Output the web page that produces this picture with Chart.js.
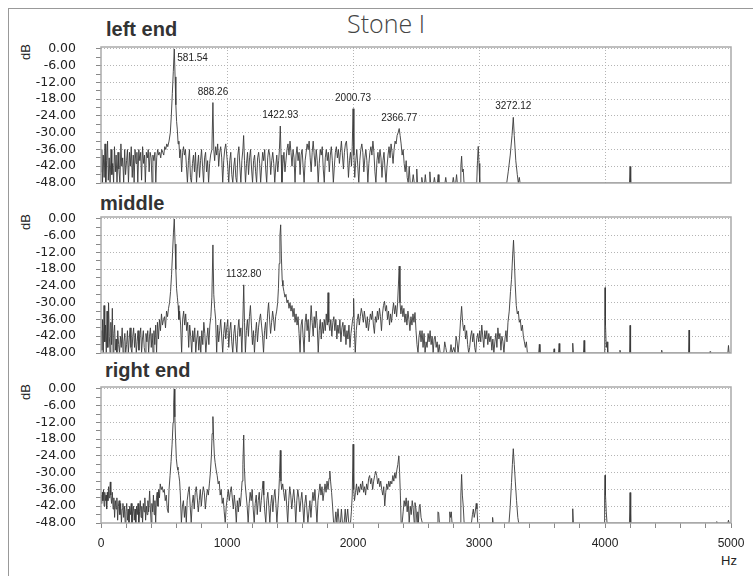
<!DOCTYPE html>
<html>
<head>
<meta charset="utf-8">
<script src="https://cdn.jsdelivr.net/npm/chart.js@4.4.1/dist/chart.umd.min.js"></script>
<style>
  html, body { margin: 0; padding: 0; background: #fff; }
  #page { position: relative; width: 753px; height: 576px; overflow: hidden; }
  canvas { position: absolute; left: 0; top: 0; }
  .frame { position: absolute; left: 8px; top: 8px; right: 0; bottom: 0; border-left: 1px solid #999; border-top: 1px solid #999; }
  .ttl { position: absolute; font: bold 20px/20px "Liberation Sans", Arial, sans-serif; color: #333; white-space: nowrap; }
  .db { position: absolute; left: 11px; width: 30px; height: 16px; font: 13px/16px "Liberation Sans", Arial, sans-serif; color: #222; text-align: center; transform: rotate(-90deg); }
  .main { position: absolute; left: 286px; top: 11px; width: 200px; text-align: center; font: 300 25px/25px "Open Sans", "Liberation Sans", sans-serif; color: #444; }
  .hz { position: absolute; left: 721px; top: 554px; font: 13px/13px "Liberation Sans", Arial, sans-serif; color: #222; }
</style>
</head>
<body>
<div id="page">
  <div class="frame"></div>
  <div class="main">Stone I</div>
  <div class="ttl" style="left:106px;top:19px">left end</div>
  <div class="ttl" style="left:100px;top:193px">middle</div>
  <div class="ttl" style="left:105px;top:360px">right end</div>
  <div class="db" style="top:44px">dB</div>
  <div class="db" style="top:214px">dB</div>
  <div class="db" style="top:384px">dB</div>
  <div class="hz">Hz</div>
  <canvas id="leftChart" width="753" height="576"></canvas>
  <canvas id="middleChart" width="753" height="576"></canvas>
  <canvas id="rightChart" width="753" height="576"></canvas>
</div>
<script>
// spectra: [frequency Hz, level dB]
const leftEnd = [
  [0,-44],[6,-36],[12,-48],[18,-38],[25,-46],[32,-34],[38,-48],[45,-40],[52,-33],[58,-47],[65,-39],[72,-48],[80,-36],[86,-45],[93,-41],[100,-48],
  [107,-35],[114,-44],[120,-38],[127,-48],[135,-37],[142,-43],[150,-48],[158,-34],[165,-42],[172,-39],[180,-48],[188,-36],[195,-45],[203,-40],
  [210,-36],[218,-48],[226,-37],[233,-42],[240,-35],[248,-46],[256,-38],[263,-48],[270,-36],[278,-41],[285,-37],[292,-48],[300,-36],[308,-40],
  [315,-37],[322,-47],[330,-35],[338,-41],[345,-38],[352,-48],[360,-37],[368,-39],[375,-36],[382,-44],[390,-37],[398,-39],[405,-48],[412,-38],
  [420,-40],[428,-37],[435,-48],[442,-39],[450,-36],[458,-38],[466,-37],[474,-39],[482,-36],[490,-37],[498,-38],[506,-35],[514,-36],[522,-34],
  [530,-35],[540,-33],[550,-30],[558,-24],[566,-16],[574,-8],[581.54,0],[588,-10],[594,-20],[600,-26],[606,-29],[612,-34],[618,-33],[625,-39],
  [632,-36],[640,-44],[648,-37],[655,-35],[662,-38],[670,-36],[678,-42],[686,-48],[694,-40],[702,-36],[710,-46],[718,-48],[726,-41],[734,-38],
  [742,-44],[750,-37],[758,-48],[766,-42],[774,-38],[782,-46],[790,-40],[798,-36],[806,-42],[814,-48],[822,-39],[830,-37],[838,-44],[846,-40],
  [854,-48],[862,-41],[870,-38],[880,-36],[888.26,-19.2],[895,-36],[902,-40],[910,-35],[918,-38],[926,-34],[934,-42],[942,-37],[950,-35],
  [958,-39],[966,-48],[974,-40],[982,-36],[990,-34],[998,-38],[1006,-42],[1014,-48],[1022,-40],[1030,-37],[1038,-45],[1046,-48],[1054,-42],
  [1062,-39],[1070,-46],[1078,-48],[1086,-38],[1094,-35],[1102,-42],[1110,-48],[1118,-40],[1126,-36],[1132,-31],[1139,-40],[1147,-48],[1155,-41],
  [1163,-37],[1171,-45],[1179,-39],[1187,-36],[1195,-43],[1203,-48],[1211,-40],[1219,-38],[1227,-44],[1235,-48],[1243,-39],[1251,-37],[1259,-41],
  [1267,-48],[1275,-42],[1283,-37],[1291,-40],[1299,-36],[1307,-43],[1315,-48],[1323,-39],[1331,-36],[1339,-38],[1347,-45],[1355,-40],[1363,-37],
  [1371,-41],[1379,-48],[1387,-42],[1395,-38],[1403,-44],[1410,-40],[1416,-36],[1422.93,-27.6],[1429,-38],[1436,-48],[1444,-41],[1452,-37],
  [1460,-44],[1468,-40],[1476,-36],[1484,-34],[1492,-38],[1500,-33],[1508,-37],[1516,-42],[1524,-36],[1532,-39],[1540,-48],[1548,-38],[1556,-35],
  [1564,-40],[1572,-37],[1580,-45],[1588,-38],[1596,-36],[1604,-42],[1612,-48],[1620,-40],[1628,-37],[1636,-34],[1644,-36],[1652,-33],[1660,-39],
  [1668,-44],[1676,-37],[1684,-33],[1692,-38],[1700,-42],[1708,-36],[1716,-40],[1724,-48],[1732,-41],[1740,-36],[1748,-38],[1756,-35],[1764,-43],
  [1772,-48],[1780,-39],[1788,-36],[1796,-40],[1804,-37],[1812,-44],[1820,-38],[1828,-35],[1836,-40],[1844,-48],[1852,-42],[1860,-37],[1868,-35],
  [1876,-39],[1884,-36],[1892,-41],[1900,-37],[1908,-33],[1916,-38],[1924,-43],[1932,-37],[1940,-34],[1948,-33],[1956,-38],[1964,-46],[1972,-40],
  [1980,-37],[1988,-42],[1994,-35],[2000.73,-21.4],[2007,-38],[2014,-46],[2022,-40],[2030,-36],[2038,-42],[2046,-48],[2054,-40],[2062,-36],
  [2070,-34],[2078,-37],[2086,-44],[2094,-39],[2102,-36],[2110,-40],[2118,-48],[2126,-41],[2134,-37],[2142,-35],[2150,-38],[2158,-33],[2166,-37],
  [2174,-44],[2182,-48],[2190,-40],[2198,-37],[2206,-41],[2214,-36],[2222,-39],[2230,-46],[2238,-40],[2246,-37],[2254,-43],[2262,-48],[2270,-42],
  [2278,-38],[2286,-35],[2294,-39],[2302,-34],[2310,-37],[2318,-41],[2326,-36],[2334,-33],[2342,-34],[2350,-31],[2358,-30],[2366.77,-28.5],
  [2374,-31],[2382,-34],[2390,-38],[2398,-36],[2406,-41],[2414,-44],[2422,-40],[2430,-46],[2438,-48],[2446,-42],[2454,-48],[2470,-48],[2478,-45],
  [2486,-48],[2500,-48],[2506,-43],[2512,-48],[2540,-48],[2546,-46],[2552,-48],[2568,-48],[2574,-45],[2580,-48],[2604,-48],[2610,-44],[2616,-48],
  [2640,-48],[2646,-46],[2652,-48],[2670,-48],[2676,-45],[2682,-48],[2730,-48],[2736,-46],[2742,-48],[2790,-48],[2796,-46],[2802,-48],[2815,-48],
  [2822,-45],[2828,-48],[2850,-48],[2856,-42],[2862,-38.4],[2868,-44],[2875,-43],[2881,-48],[2982,-48],[2988,-40],[2994,-34.9],[3000,-41],
  [3006,-48],[3220,-48],[3232,-44],[3248,-38],[3262,-31],[3272.12,-24.5],[3280,-31],[3292,-40],[3304,-45],[3312,-48],[3320,-46],[3326,-48],
  [4194,-48],[4199,-42.1],[4204,-48],[5000,-48]
];

const middle = [
  [0,-40],[6,-47],[12,-36],[18,-48],[24,-31],[30,-44],[36,-38],[42,-48],[48,-33],[54,-46],[60,-30],[66,-42],[72,-48],[78,-37],[84,-45],[90,-32],
  [96,-48],[102,-41],[108,-38],[114,-47],[120,-43],[126,-48],[133,-40],[140,-45],[147,-48],[154,-42],[161,-46],[168,-39],[175,-48],[182,-44],
  [189,-41],[196,-48],[203,-45],[210,-40],[217,-48],[224,-43],[231,-39],[238,-46],[245,-48],[252,-42],[259,-39],[266,-46],[273,-41],[280,-48],
  [287,-44],[294,-40],[301,-47],[308,-42],[315,-39],[322,-48],[329,-43],[336,-40],[343,-46],[350,-48],[357,-41],[364,-44],[371,-40],[378,-48],
  [385,-42],[392,-39],[399,-46],[406,-41],[413,-48],[420,-40],[427,-45],[434,-38],[441,-48],[448,-37],[456,-43],[464,-36],[472,-40],[480,-34],
  [488,-38],[496,-36],[504,-35],[512,-39],[520,-33],[528,-35],[536,-32],[544,-30],[552,-26],[560,-20],[568,-12],[575,-5],[581.54,0],[588,-9],
  [594,-18],[600,-25],[606,-28],[612,-31],[618,-36],[624,-33],[632,-38],[640,-48],[648,-36],[656,-33],[664,-38],[672,-34],[680,-40],[688,-37],
  [696,-46],[704,-38],[712,-42],[720,-48],[728,-40],[736,-44],[744,-39],[752,-48],[760,-43],[768,-40],[776,-47],[784,-42],[792,-48],[800,-40],
  [808,-45],[816,-37],[824,-41],[832,-48],[840,-43],[848,-39],[856,-45],[864,-38],[872,-35],[880,-28],[888.26,-9.3],[895,-27],[902,-32],[910,-36],
  [918,-48],[926,-38],[934,-44],[942,-40],[950,-36],[958,-42],[966,-48],[974,-41],[982,-37],[990,-43],[998,-39],[1006,-36],[1014,-46],[1022,-40],
  [1030,-37],[1038,-44],[1046,-48],[1054,-41],[1062,-38],[1070,-44],[1078,-48],[1086,-40],[1094,-36],[1102,-42],[1110,-39],[1118,-48],[1126,-36],
  [1132.8,-23.6],[1139,-37],[1146,-48],[1154,-40],[1162,-36],[1170,-42],[1178,-35],[1186,-31],[1194,-38],[1202,-45],[1210,-40],[1218,-48],
  [1226,-41],[1234,-37],[1242,-44],[1250,-39],[1258,-36],[1266,-34],[1274,-38],[1282,-42],[1290,-48],[1298,-40],[1306,-37],[1314,-43],[1322,-34],
  [1330,-30],[1338,-36],[1346,-41],[1354,-37],[1362,-33],[1370,-36],[1378,-40],[1386,-35],[1394,-33],[1402,-30],[1408,-25],[1414,-16],[1420,-6],
  [1426,-2.1],[1432,-14],[1438,-22],[1444,-24],[1452,-26],[1460,-28],[1468,-27],[1476,-30],[1484,-29],[1492,-32],[1500,-30],[1508,-33],[1516,-31],
  [1524,-35],[1532,-32],[1540,-37],[1548,-34],[1556,-38],[1564,-35],[1572,-41],[1580,-48],[1588,-38],[1596,-36],[1604,-42],[1612,-48],[1620,-37],
  [1628,-34],[1636,-40],[1644,-36],[1652,-44],[1660,-38],[1668,-31],[1676,-37],[1684,-42],[1692,-35],[1700,-39],[1708,-33],[1716,-38],[1724,-48],
  [1732,-40],[1740,-36],[1748,-43],[1756,-37],[1764,-41],[1772,-36],[1780,-40],[1788,-34],[1796,-38],[1802,-26.4],[1808,-37],[1816,-40],
  [1824,-36],[1832,-42],[1840,-37],[1848,-35],[1856,-40],[1864,-36],[1872,-43],[1880,-38],[1888,-41],[1896,-36],[1904,-44],[1912,-39],[1920,-37],
  [1928,-42],[1936,-38],[1944,-45],[1952,-40],[1960,-43],[1968,-38],[1976,-46],[1984,-41],[1992,-38],[2000,-35],[2005,-28.5],[2011,-40],[2018,-48],
  [2026,-40],[2034,-36],[2042,-34],[2050,-38],[2058,-35],[2066,-32],[2074,-34],[2082,-37],[2090,-33],[2098,-36],[2106,-39],[2114,-35],[2122,-40],
  [2130,-37],[2138,-34],[2146,-36],[2154,-33],[2162,-38],[2170,-41],[2178,-35],[2186,-37],[2194,-33],[2202,-36],[2210,-32],[2218,-35],[2226,-40],
  [2234,-34],[2242,-31],[2250,-29.5],[2258,-33],[2266,-31],[2274,-36],[2282,-33],[2290,-38],[2298,-34],[2306,-37],[2314,-33],[2322,-30],[2330,-34],
  [2338,-31],[2346,-35],[2354,-30],[2360,-24],[2366.77,-16.9],[2373,-30],[2380,-34],[2388,-31],[2396,-35],[2404,-32],[2412,-37],[2420,-34],
  [2428,-38],[2436,-33],[2444,-36],[2452,-40],[2460,-35],[2468,-38],[2476,-34],[2484,-37],[2492,-33.5],[2500,-40],[2508,-45],[2516,-48],[2524,-42],
  [2532,-40],[2540,-44],[2548,-40],[2556,-46],[2564,-41],[2572,-48],[2580,-44],[2588,-46],[2596,-41],[2604,-44],[2612,-40],[2620,-45],[2628,-42],
  [2636,-48],[2644,-43],[2652,-42],[2660,-46],[2668,-44],[2676,-48],[2684,-45],[2692,-48],[2720,-48],[2728,-44],[2736,-46],[2744,-48],[2770,-48],
  [2778,-45],[2786,-48],[2800,-46],[2810,-48],[2818,-42],[2826,-44],[2834,-48],[2846,-42],[2854,-36],[2862,-31.3],[2870,-37],[2878,-40],[2886,-38],
  [2894,-43],[2902,-40],[2910,-45],[2918,-48],[2926,-46],[2934,-42],[2942,-40],[2950,-44],[2958,-41],[2966,-46],[2974,-48],[2982,-43],[2990,-41],
  [2998,-44],[3006,-40],[3014,-44],[3022,-38],[3030,-42],[3038,-46],[3046,-40],[3054,-43],[3062,-40],[3070,-45],[3078,-41],[3086,-44],[3094,-42],
  [3102,-47],[3110,-43],[3118,-48],[3126,-44],[3134,-41],[3142,-46],[3150,-39],[3158,-43],[3166,-41],[3174,-47],[3182,-42],[3190,-44],[3198,-48],
  [3206,-43],[3214,-40],[3222,-44],[3230,-37],[3240,-33],[3250,-26],[3258,-21.6],[3266,-14],[3274,-7.6],[3280,-14],[3288,-24],[3296,-31],
  [3304,-34],[3312,-33],[3320,-37],[3328,-36],[3336,-40],[3344,-38],[3352,-42],[3360,-44],[3368,-46],[3376,-44],[3384,-48],[3474,-48],[3479,-44.9],
  [3484,-48],[3592,-48],[3596,-46.5],[3600,-48],[3631,-48],[3636,-44.6],[3641,-48],[3739,-48],[3744,-44.5],[3749,-48],[3829,-48],[3834,-43.5],
  [3839,-48],[3994,-48],[3998,-35],[4000,-24.6],[4004,-38],[4010,-46],[4016,-44],[4022,-48],[4115,-48],[4119,-47],[4123,-48],[4195,-48],
  [4199,-38.1],[4203,-48],[4446,-48],[4450,-47],[4454,-48],[4663,-48],[4667,-39.8],[4671,-48],[4830,-48],[4834,-47.5],[4838,-48],[4975,-48],
  [4980,-45.3],[4985,-48],[5000,-48]
];

const rightEnd = [
  [0,-38],[5,-41],[10,-37],[15,-40],[20,-36],[25,-42],[30,-37],[35,-40],[40,-38],[45,-43],[50,-37],[55,-40],[60,-35],[65,-39],[70,-36],
  [74,-33.3],[78,-38],[84,-41],[90,-37],[96,-43],[102,-39],[108,-46],[114,-40],[120,-43],[126,-39],[132,-47],[138,-42],[144,-40],[150,-45],
  [156,-41],[162,-48],[168,-43],[174,-41],[180,-46],[186,-42],[192,-48],[198,-44],[204,-41],[210,-47],[216,-43],[222,-48],[228,-42],[234,-45],
  [240,-41],[246,-48],[252,-44],[258,-42],[264,-47],[270,-43],[276,-48],[282,-42],[288,-45],[294,-41],[300,-48],[306,-44],[312,-40],[318,-46],
  [324,-42],[330,-48],[336,-41],[342,-44],[348,-39],[354,-47],[360,-42],[366,-45],[372,-40],[378,-44],[386,-36.5],[392,-43],[398,-48],[404,-41],
  [410,-44],[416,-38],[422,-45],[428,-40],[434,-48],[440,-39],[446,-37],[452,-42],[458,-36],[464,-39],[470,-34],[478,-36],[486,-35],[494,-37],
  [502,-36],[510,-40],[518,-38],[526,-43],[534,-44.3],[540,-36],[548,-31],[556,-26],[564,-20],[572,-12],[577,-5],[581.54,0],[586,-10],[592,-18],
  [598,-25],[605,-28],[611,-29],[618,-31],[624,-33],[630,-38],[638,-48],[646,-42],[654,-40],[662,-46],[670,-42],[677,-48],[684,-40],[692,-37],
  [700,-35],[708,-42],[716,-48],[724,-41],[732,-38],[740,-43],[748,-37],[756,-35],[764,-39],[772,-44],[780,-40],[788,-36],[796,-42],[804,-38],
  [812,-35],[820,-37],[828,-43],[836,-39],[844,-36],[852,-38],[860,-34],[868,-30],[876,-24],[882,-16],[888.26,-9.9],[894,-18],[900,-24],
  [906,-26.4],[914,-29],[922,-31],[930,-34],[938,-33],[946,-38],[954,-36],[962,-41],[970,-39],[978,-44],[986,-48],[994,-42],[1002,-39],[1010,-36],
  [1018,-40],[1026,-37],[1034,-35],[1042,-39],[1050,-43],[1058,-38],[1066,-42],[1074,-48],[1082,-40],[1090,-44],[1098,-39],[1106,-42],[1114,-37],
  [1120,-33],[1126,-27],[1132.8,-16.5],[1138,-28],[1144,-34],[1152,-38],[1160,-42],[1168,-48],[1176,-41],[1184,-37],[1192,-40],[1200,-36],
  [1208,-43],[1216,-48],[1224,-41],[1232,-38],[1240,-45],[1248,-40],[1256,-37],[1264,-44],[1272,-40],[1280,-36],[1286,-33],[1292,-38],[1300,-44],
  [1308,-48],[1316,-40],[1324,-37],[1332,-42],[1340,-48],[1348,-41],[1356,-38],[1364,-44],[1372,-39],[1380,-36],[1388,-41],[1396,-48],[1404,-42],
  [1410,-38],[1416,-32],[1422.93,-22],[1428,-33],[1434,-36],[1442,-34],[1450,-37],[1458,-40],[1466,-36],[1474,-42],[1482,-48],[1490,-40],
  [1498,-35],[1506,-38],[1514,-43],[1522,-39],[1530,-36],[1538,-41],[1546,-48],[1554,-40],[1562,-36],[1570,-39],[1578,-44],[1586,-40],[1594,-37],
  [1602,-42],[1610,-48],[1618,-41],[1626,-38],[1634,-43],[1642,-48],[1650,-44],[1658,-40],[1666,-46],[1674,-41],[1682,-37],[1690,-40],[1698,-36],
  [1706,-42],[1714,-48],[1722,-40],[1730,-37],[1738,-34],[1746,-38],[1754,-35],[1762,-40],[1770,-37],[1778,-34],[1786,-37],[1794,-33],[1802,-36],
  [1810,-32],[1816,-29.4],[1822,-33],[1830,-37],[1838,-42],[1846,-48],[1856,-48],[1864,-44],[1872,-48],[1881,-42.9],[1890,-48],[1900,-48],
  [1908,-43],[1916,-48],[1930,-48],[1938,-43],[1946,-48],[1958,-43],[1966,-48],[1980,-48],[1987,-44],[1994,-38],[2000.73,-19.8],[2006,-36],
  [2012,-40],[2020,-37],[2028,-34],[2036,-38],[2044,-35],[2052,-37],[2060,-34],[2068,-36],[2076,-33],[2084,-37],[2092,-35],[2100,-38],[2108,-34],
  [2116,-36],[2124,-32],[2132,-31],[2140,-34],[2148,-32],[2156,-36],[2164,-33],[2172,-31],[2180,-29.5],[2188,-31],[2196,-34],[2204,-32],[2212,-35],
  [2220,-33],[2228,-36],[2236,-38],[2244,-35],[2252,-41.9],[2260,-37],[2268,-34],[2276,-36],[2284,-33],[2292,-35],[2300,-33],[2308,-34],[2316,-31],
  [2324,-33],[2332,-30],[2340,-32],[2348,-29],[2356,-27],[2364,-24],[2370,-30],[2376,-38],[2382,-48],[2390,-48],[2398,-44],[2406,-40],[2414,-42],
  [2422,-39],[2430,-44],[2438,-40],[2446,-48],[2454,-42],[2462,-45],[2470,-40],[2478,-43],[2486,-48],[2492,-40.7],[2500,-43],[2508,-48],[2514,-44],
  [2519,-48],[2526,-42],[2532,-41.3],[2540,-46],[2550,-48],[2668,-48],[2674,-44],[2680,-44.3],[2686,-48],[2762,-48],[2768,-44],[2774,-46],
  [2780,-44],[2786,-48],[2850,-48],[2856,-38],[2862,-30.6],[2868,-38],[2875,-42],[2882,-48],[2940,-48],[2948,-45],[2955,-43],[2962,-46],[2970,-44],
  [2978,-41],[2984,-43],[2990,-48],[3104,-48],[3108,-46],[3112,-48],[3238,-48],[3248,-42],[3258,-33.5],[3265,-27],[3272.12,-21.4],[3280,-27],
  [3288,-33],[3298,-40],[3308,-46],[3315,-48],[3739,-48],[3744,-42.9],[3749,-48],[3994,-48],[3997,-38],[4000,-30.9],[4004,-38],[4010,-44],
  [4016,-48],[4194,-48],[4199,-37.1],[4204,-48],[4883,-48],[4887,-47.5],[4891,-48],[4975,-48],[4980,-47],[4985,-48],[5000,-48]
];

// annotated peaks
const leftPeakHz = [581.54, 888.26, 1422.93, 2000.73, 2366.77, 3272.12];
const leftPeakDb = [0, -19.2, -27.6, -21.4, -28.5, -24.5];
const middlePeakHz = [1132.80];
const middlePeakDb = [-23.6];

// axis ranges and ticks
const hzMin = 0, hzMax = 5000;
const dbMin = -48, dbMax = 0.7;
const dbTicks = [-48, -45, -42, -39, -36, -33, -30, -27, -24, -21, -18, -15, -12, -9, -6, -3, 0];

Chart.defaults.font.family = '"Liberation Sans", Arial, sans-serif';
Chart.defaults.color = '#222';

const isStep = (v, s) => Math.abs(v / s - Math.round(v / s)) < 1e-6;

const panelDecor = {
    id: 'panelDecor',
    afterDatasetsDraw(chart, args, opts) {
        const { ctx, chartArea: a, scales: { x, y } } = chart;
        ctx.save();

        // peak frequency labels
        ctx.font = '10px "Liberation Sans", Arial, sans-serif';
        (opts.peakHz || []).forEach((hz, i) => {
            const text = hz.toFixed(2);
            const px = x.getPixelForValue(hz);
            const py = y.getPixelForValue(opts.peakDb[i]);
            const w = ctx.measureText(text).width;
            let tx, ty;
            if (opts.peakDb[i] > -3) {
                tx = px + 3; ty = py + 12;
            } else {
                tx = px - w / 2; ty = py - 8;
            }
            ctx.fillStyle = '#fff';
            ctx.fillRect(tx - 1, ty - 9, w + 2, 11);
            ctx.fillStyle = '#222';
            ctx.fillText(text, tx, ty);
        });

        // plot frame
        ctx.strokeStyle = '#aaa';
        ctx.lineWidth = 1.5;
        ctx.strokeRect(a.left, a.top, a.right - a.left, a.bottom - a.top);
        ctx.restore();
    }
};

function makePanel(id, points, peakHz, peakDb, areaTop, areaBottom, showX) {
    const xAxisHeight = showX ? 30 : 0;
    return new Chart(document.getElementById(id), {
        type: 'scatter',
        data: {
            datasets: [{
                data: points.map(([f, d]) => ({ x: f, y: d })),
                showLine: true,
                borderColor: '#3a3a3a',
                borderWidth: 0.9,
                pointRadius: 0,
                tension: 0
            }]
        },
        options: {
            responsive: false,
            animation: false,
            events: [],
            layout: { padding: { top: areaTop, bottom: 576 - areaBottom - xAxisHeight, left: 0, right: 22 } },
            plugins: {
                legend: { display: false },
                tooltip: { enabled: false },
                panelDecor: { peakHz, peakDb }
            },
            scales: {
                x: {
                    type: 'linear',
                    min: hzMin,
                    max: hzMax,
                    afterFit: s => { s.height = xAxisHeight; },
                    ticks: {
                        display: showX,
                        stepSize: 200,
                        autoSkip: false,
                        maxRotation: 0,
                        padding: 8,
                        font: { size: 12 },
                        callback: v => (isStep(v, 1000) ? String(v) : '')
                    },
                    grid: {
                        color: c => (c.tick && isStep(c.tick.value, 1000) && c.tick.value > hzMin && c.tick.value < hzMax ? '#b4b4b4' : 'rgba(0,0,0,0)'),
                        drawTicks: showX,
                        tickLength: 5,
                        tickColor: '#888'
                    },
                    border: { display: false, dash: [1, 2] }
                },
                y: {
                    min: dbMin,
                    max: dbMax,
                    afterFit: s => { s.width = 101; },
                    afterBuildTicks: s => { s.ticks = dbTicks.map(v => ({ value: v })); },
                    ticks: {
                        autoSkip: false,
                        padding: 20,
                        font: { family: '"DejaVu Sans", sans-serif', size: 12.5 },
                        callback: v => (isStep(v, 6) ? (Math.abs(v) < 1e-6 ? 0 : v).toFixed(2) : '')
                    },
                    grid: {
                        color: c => (c.tick && isStep(c.tick.value, 6) && c.tick.value > dbMin ? '#b4b4b4' : 'rgba(0,0,0,0)'),
                        tickLength: 5,
                        tickColor: '#888'
                    },
                    border: { display: false, dash: [1, 2] }
                }
            }
        },
        plugins: [panelDecor]
    });
}

makePanel('leftChart', leftEnd, leftPeakHz, leftPeakDb, 47, 183, false);
makePanel('middleChart', middle, middlePeakHz, middlePeakDb, 217, 353, false);
makePanel('rightChart', rightEnd, [], [], 387, 523, true);
</script>
</body>
</html>
